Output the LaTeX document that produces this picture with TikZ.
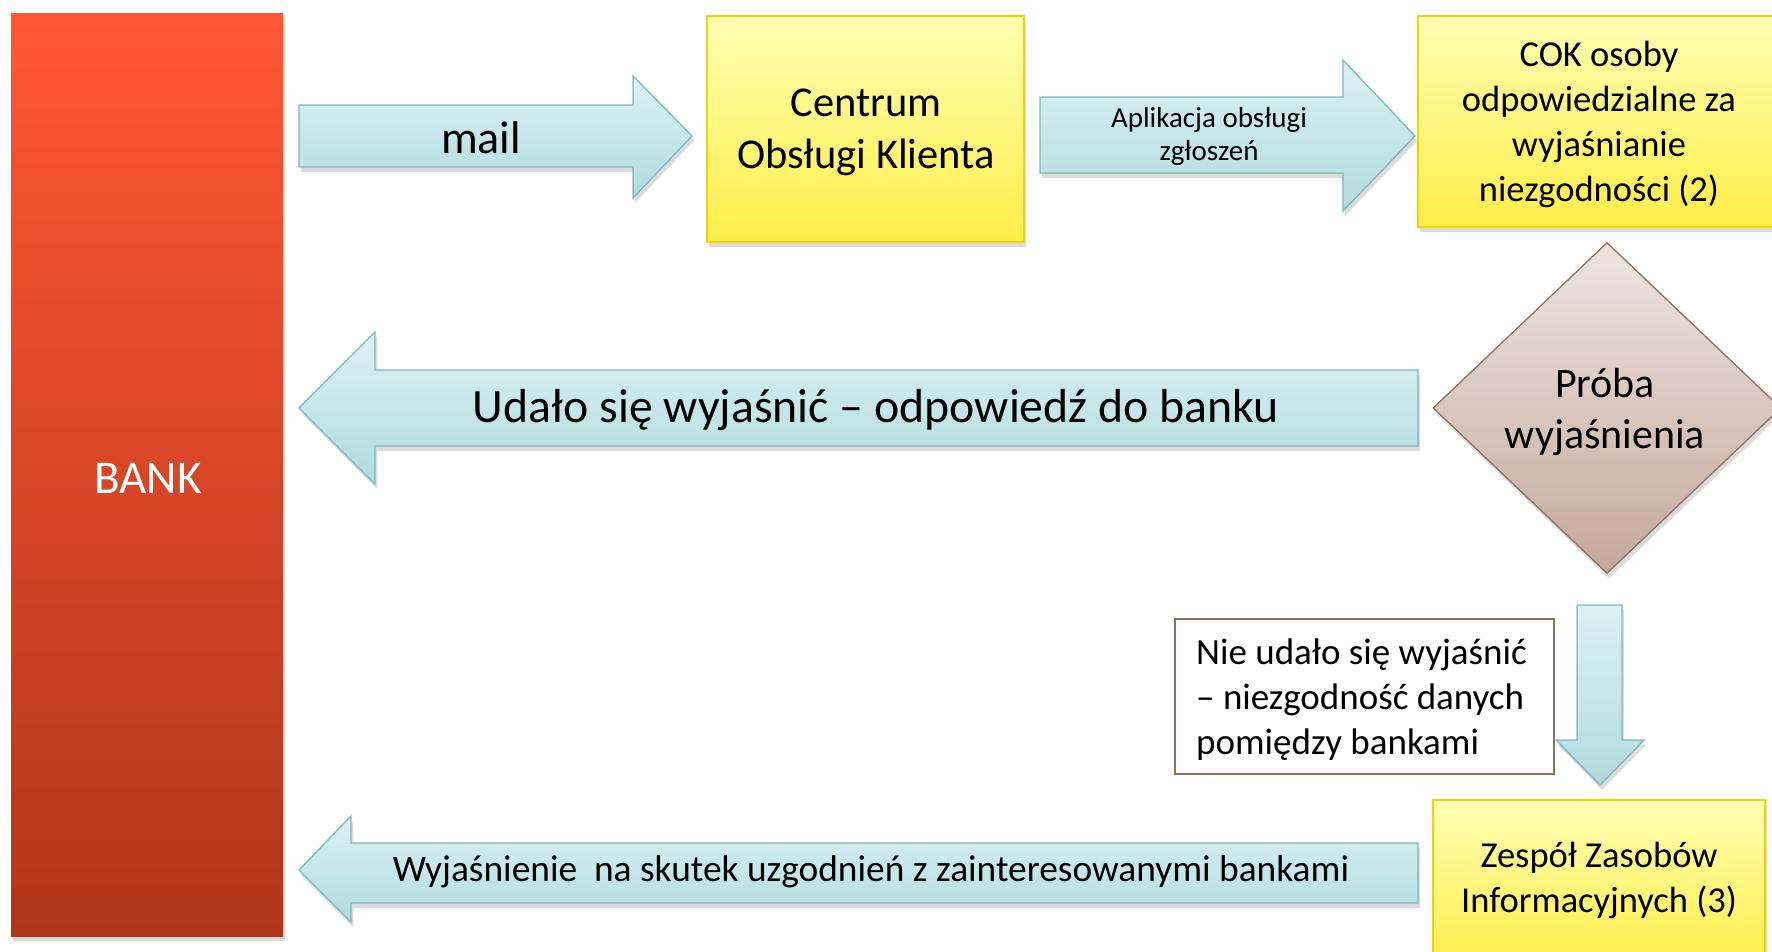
\documentclass[tikz,border=0pt]{standalone}
\usepackage{fontspec}
\setmainfont{Carlito}
\usetikzlibrary{shapes.geometric,shadows}
\definecolor{arrowtop}{HTML}{DDF1F3}
\definecolor{arrowbot}{HTML}{B0DCDF}
\definecolor{arrowline}{HTML}{7DB8BC}
\definecolor{yeltop}{HTML}{FFFFB4}
\definecolor{yelbot}{HTML}{FFEE48}
\definecolor{yelline}{HTML}{F5D200}
\definecolor{banktop}{HTML}{FF5733}
\definecolor{bankmid}{HTML}{EC4E2B}
\definecolor{bankbot}{HTML}{B0351B}
\definecolor{diamtop}{HTML}{EFE5E1}
\definecolor{diambot}{HTML}{C4A99B}
\definecolor{diamline}{HTML}{8C7262}
\definecolor{noteline}{HTML}{8C7060}
\tikzset{
  softshadow/.style={drop shadow={opacity=0.28,shadow xshift=2pt,shadow yshift=-5pt}},
  flowarrow/.style={draw=arrowline, line width=1.3pt, top color=arrowtop, bottom color=arrowbot, softshadow},
  yellowbox/.style={rectangle, draw=yelline, line width=1.6pt, top color=yeltop, bottom color=yelbot, softshadow, inner sep=0pt, align=center, text=black},
  bankbox/.style={rectangle, draw=none, top color=banktop, middle color=bankmid, bottom color=bankbot, softshadow, inner sep=0pt},
  decision/.style={diamond, draw=diamline, line width=1.3pt, top color=diamtop, bottom color=diambot, softshadow, inner sep=0pt, align=center},
  notebox/.style={rectangle, draw=noteline, fill=white, line width=1.2pt, inner sep=0pt},
  lbl/.style={align=center, text=black, inner sep=0pt},
}
\newcommand{\fs}[2]{\fontsize{#1}{#2}\selectfont}
\begin{document}
\begin{tikzpicture}[x=1pt,y=-1pt]
\useasboundingbox (0,0) rectangle (1772,952);
\clip (0,0) rectangle (1772,952);

% BANK
\node[bankbox, minimum width=272pt, minimum height=922pt] (bank) at (147,475) {};
\node[lbl, text=white, font=\fs{47}{56}] (banklbl) at (148,478) {BANK};

% mail arrow
\draw[flowarrow] (299,105) -- (633,105) -- (633,76) -- (692,136) -- (633,198) -- (633,167) -- (299,167) -- cycle;
\node[lbl, font=\fs{46}{55}] (mail) at (481,138) {mail};

% Centrum Obslugi Klienta
\node[yellowbox, minimum width=317pt, minimum height=226pt] (cok1) at (865.5,129) {};
\node[lbl, font=\fs{42.5}{52}] (cok1lbl) at (866,132.5) {Centrum\\Obsługi Klienta};

% Aplikacja arrow
\draw[flowarrow] (1040,97) -- (1343,97) -- (1343,60) -- (1415,136) -- (1343,211) -- (1343,173) -- (1040,173) -- cycle;
\node[lbl, font=\fs{29}{33}] (apl) at (1209,136) {Aplikacja obsługi\\zgłoszeń};

% COK osoby
\node[yellowbox, minimum width=364pt, minimum height=211pt] (cok2) at (1600,121.5) {};
\node[lbl, font=\fs{36.5}{45}] (cok2lbl) at (1599,124) {COK osoby\\odpowiedzialne za\\wyjaśnianie\\niezgodności (2)};

% Decision
\node[decision, minimum width=348pt, minimum height=331pt] (dec) at (1607,408) {};
\node[lbl, font=\fs{42}{51}] (declbl) at (1605,412) {Próba\\wyjaśnienia};

% Udalo sie arrow (to bank)
\draw[flowarrow] (1418,370) -- (375,370) -- (375,332) -- (299,408) -- (375,484) -- (375,446) -- (1418,446) -- cycle;
\node[lbl, font=\fs{47.8}{56}] (udalo) at (876,410) {Udało się wyjaśnić – odpowiedź do banku};

% Down arrow
\draw[flowarrow] (1577,605) -- (1622,605) -- (1622,740) -- (1644,740) -- (1600,785) -- (1556,740) -- (1577,740) -- cycle;

% Note box
\node[notebox, minimum width=379pt, minimum height=155pt] (note) at (1364.5,696.5) {};
\node[lbl, align=left, anchor=west, font=\fs{37}{45}] (notelbl) at (1196,699.5) {Nie udało się wyjaśnić\\– niezgodność danych\\pomiędzy bankami};

% Zespol box
\node[yellowbox, minimum width=332pt, minimum height=170pt] (zzi) at (1599,885) {};
\node[lbl, font=\fs{36.5}{45}] (zzilbl) at (1599,880.5) {Zespół Zasobów\\Informacyjnych (3)};

% Wyjasnienie arrow (to bank)
\draw[flowarrow] (1418,843) -- (351,843) -- (351,816) -- (299,870) -- (351,922) -- (351,903) -- (1418,903) -- cycle;
\node[lbl, font=\fs{37.4}{44}] (wyj) at (871,872) {Wyjaśnienie\ \ na skutek uzgodnień z zainteresowanymi bankami};
\end{tikzpicture}
\end{document}
